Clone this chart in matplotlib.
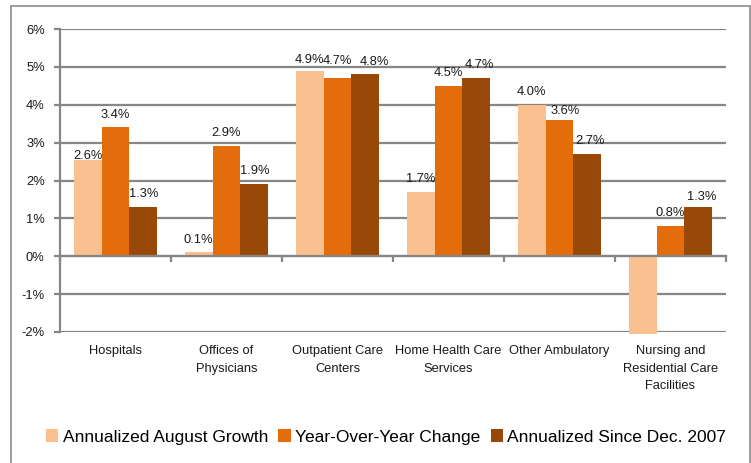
import numpy as np
import matplotlib
matplotlib.use("Agg")
import matplotlib.pyplot as plt
from matplotlib.patches import Rectangle

plt.rcParams["font.family"] = ["Liberation Sans", "DejaVu Sans"]

categories = ["Hospitals", "Offices of\nPhysicians", "Outpatient Care\nCenters",
              "Home Health Care\nServices", "Other Ambulatory",
              "Nursing and\nResidential Care\nFacilities"]
series_names = ["Annualized August Growth", "Year-Over-Year Change",
                "Annualized Since Dec. 2007"]
aug_growth = [2.55, 0.1, 4.9, 1.7, 4.0, -2.05]
yoy_change = [3.4, 2.9, 4.7, 4.5, 3.6, 0.8]
since_2007 = [1.3, 1.9, 4.8, 4.7, 2.7, 1.3]
labels_aug = ["2.6%", "0.1%", "4.9%", "1.7%", "4.0%", None]
labels_yoy = ["3.4%", "2.9%", "4.7%", "4.5%", "3.6%", "0.8%"]
labels_2007 = ["1.3%", "1.9%", "4.8%", "4.7%", "2.7%", "1.3%"]
colors = ["#FAC090", "#E46C0A", "#984807"]

# label nudges in pixels (dx, dy) relative to the default spot above the bar
nudges = {(0, 0): (0, -9), (0, 2): (0, -2), (1, 2): (0, 4), (2, 2): (9, 0),
          (2, 3): (3, 0), (1, 4): (6, -4), (2, 4): (3, 0), (2, 5): (3, -3)}

fs_small = 9.3
fs_leg = 12.5
grid_c = "#868686"

fig = plt.figure(figsize=(7.51, 4.63), dpi=100)
fig.patches.append(Rectangle((10.5 / 751, -0.05), 739 / 751, 1.05 - 6.5 / 463,
                             transform=fig.transFigure, fill=False,
                             edgecolor="#8c8c8c", linewidth=1.2))
ax = fig.add_axes([60 / 751, 1 - 332 / 463, 666 / 751, 303 / 463])

x = np.arange(len(categories))
w = 0.252
all_vals = [aug_growth, yoy_change, since_2007]
all_labels = [labels_aug, labels_yoy, labels_2007]
for s, (vals, labs) in enumerate(zip(all_vals, all_labels)):
    bars = ax.bar(x + (s - 1) * w, vals, w, color=colors[s], label=series_names[s],
                  zorder=3, clip_on=False)
    for i, (b, lab) in enumerate(zip(bars, labs)):
        if lab is None:
            continue
        dx, dy = nudges.get((s, i), (0, 0))
        ax.annotate(lab, (b.get_x() + b.get_width() / 2, b.get_height()),
                    xytext=(dx * 0.72, 5 + dy * 0.72), textcoords="offset points",
                    ha="center", va="bottom", fontsize=fs_small, color="#1a1a1a",
                    zorder=4)

ax.set_xlim(-0.5, len(categories) - 0.5)
ax.set_ylim(-2, 6)
ax.set_yticks(range(-2, 7))
ax.set_yticklabels([f"{v}%" for v in range(-2, 7)], fontsize=fs_small, color="#1a1a1a")
ax.yaxis.grid(True, color=grid_c, linewidth=1.6, zorder=0)
ax.set_axisbelow(True)

ax.spines["bottom"].set_position(("data", 0))
ax.spines["bottom"].set_zorder(5)
for sp in ["top", "right"]:
    ax.spines[sp].set_visible(False)
for sp in ["left", "bottom"]:
    ax.spines[sp].set_color(grid_c)
    ax.spines[sp].set_linewidth(1.6)

ax.set_xticks(x)
ax.set_xticklabels(categories, fontsize=fs_small, color="#1a1a1a", linespacing=1.6)
ax.set_xticks(np.arange(len(categories) + 1) - 0.5, minor=True)
ax.tick_params(axis="x", which="major", length=0, pad=64)
ax.tick_params(axis="x", which="minor", length=4, color=grid_c, width=1.6)
ax.tick_params(axis="y", length=4, color=grid_c, width=1.6, pad=7)

fig.legend(loc="center", bbox_to_anchor=(386 / 751, 1 - 437 / 463), ncol=3,
           frameon=False, fontsize=fs_leg, handlelength=0.7, handleheight=0.7,
           handletextpad=0.25, columnspacing=0.6, borderpad=0)

fig.savefig("out.png", dpi=100)
